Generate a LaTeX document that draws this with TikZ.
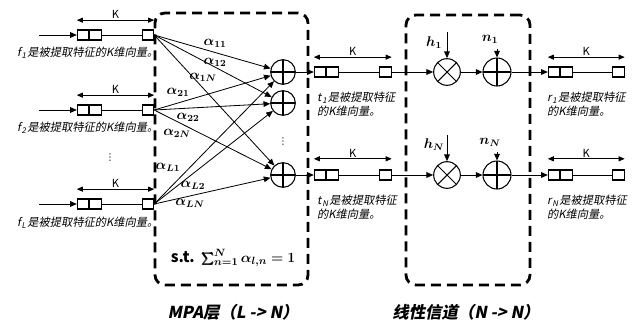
\documentclass[tikz,border=0pt]{standalone}
\usepackage{fontspec}
\usepackage{bm}
\usetikzlibrary{arrows.meta, positioning, fit, backgrounds}
\newfontfamily\cjk[FakeSlant=0.2]{Noto Sans CJK SC}
\newfontfamily\cjkup{Noto Sans CJK SC}
\newfontfamily\symfont{DejaVu Sans}

\begin{document}
\begin{tikzpicture}[
    x=0.3mm, y=-0.3mm,
    every node/.style={font=\cjk\fontsize{9.6}{12}\selectfont, align=left},
    cell/.style={rectangle, draw, line width=0.9pt, minimum width=3.4mm, minimum height=3mm, inner sep=0pt},
    sumop/.style={circle, draw, line width=0.9pt, minimum size=7.4mm, inner sep=0pt,
        path picture={\draw[line width=0.9pt] (path picture bounding box.north) -- (path picture bounding box.south)
            (path picture bounding box.west) -- (path picture bounding box.east);}},
    mulop/.style={circle, draw, line width=0.9pt, minimum size=8mm, inner sep=0pt,
        path picture={\draw[line width=0.9pt] (path picture bounding box.north west) -- (path picture bounding box.south east)
            (path picture bounding box.south west) -- (path picture bounding box.north east);}},
    layer/.style={rectangle, draw, line width=2.4pt, dash pattern=on 3mm off 1.8mm, rounded corners=3mm, inner sep=0pt},
    arrow/.style={-{Triangle[length=2mm, width=1.7mm]}, line width=0.7pt},
    wire/.style={line width=0.7pt},
    dim/.style={{Triangle[length=1.8mm, width=1.5mm]}-{Triangle[length=1.8mm, width=1.5mm]}, line width=0.7pt},
    klbl/.style={font=\cjkup\fontsize{9.5}{11}\selectfont, above, inner sep=1pt},
    coef/.style={font=\fontsize{11.5}{13}\selectfont, inner sep=0pt},
    vdot/.style={font=\symfont\fontsize{8}{8}\selectfont, inner sep=0pt},
    title/.style={font=\cjk\bfseries\fontsize{14}{16}\selectfont}
]
\useasboundingbox (0,0) rectangle (636,325);

% ================= INPUT FEATURES =================
\node[cell] (f1a) at (83,35) {};
\node[cell, right=0pt of f1a] (f1b) {};
\node[cell] (f1c) at (148,35) {};
\coordinate (f1in) at (39,35);
\draw[arrow] (f1in) -- (f1a);
\draw[wire] (f1b) -- (f1c);
\draw[dim] ([yshift=2.8mm]f1a.north west) -- node[klbl] {K} ([yshift=2.8mm]f1c.north east);
\node[anchor=west] (f1txt) at (13,53) {f\kern0.8pt\textsubscript{1}\kern0.6pt是被提取特征的K维向量。};

\node[cell] (f2a) at (83,110) {};
\node[cell, right=0pt of f2a] (f2b) {};
\node[cell] (f2c) at (148,110) {};
\coordinate (f2in) at (39,110);
\draw[arrow] (f2in) -- (f2a);
\draw[wire] (f2b) -- (f2c);
\draw[dim] ([yshift=2.8mm]f2a.north west) -- node[klbl] {K} ([yshift=2.8mm]f2c.north east);
\node[anchor=west] (f2txt) at (13,128) {f\kern0.8pt\textsubscript{2}\kern0.6pt是被提取特征的K维向量。};

\node[vdot] (fdots) at (110,158) {⋮};

\node[cell] (fLa) at (83,204) {};
\node[cell, right=0pt of fLa] (fLb) {};
\node[cell] (fLc) at (148,204) {};
\coordinate (fLin) at (39,204);
\draw[arrow] (fLin) -- (fLa);
\draw[wire] (fLb) -- (fLc);
\draw[dim] ([yshift=2.8mm]fLa.north west) -- node[klbl] {K} ([yshift=2.8mm]fLc.north east);
\node[anchor=west] (fLtxt) at (13,223) {f\kern0.8pt\textsubscript{L}\kern0.6pt是被提取特征的K维向量。};

% ================= MPA LAYER =================
\node[sumop] (sum1) at (283,72) {};
\node[sumop] (sum2) at (283,103) {};
\node[sumop] (sumN) at (283,175) {};
\node[vdot] (sumdots) at (283,142) {⋮};

\draw[arrow] (f1c.east) -- (sum1);
\draw[arrow] (f1c.east) -- (sum2);
\draw[arrow] (f1c.east) -- (sumN);
\draw[arrow] (f2c.east) -- (sum1);
\draw[arrow] (f2c.east) -- (sum2);
\draw[arrow] (f2c.east) -- (sumN);
\draw[arrow] (fLc.east) -- (sum1);
\draw[arrow] (fLc.east) -- (sum2);
\draw[arrow] (fLc.east) -- (sumN);

\node[coef] (a11) at (215,43) {$\bm{\alpha_{11}}$};
\node[coef] (a12) at (215,62) {$\bm{\alpha_{12}}$};
\node[coef] (a1N) at (203,77) {$\bm{\alpha_{1N}}$};
\node[coef] (a21) at (178,92) {$\bm{\alpha_{21}}$};
\node[coef] (a22) at (188,117) {$\bm{\alpha_{22}}$};
\node[coef] (a2N) at (177,133) {$\bm{\alpha_{2N}}$};
\node[coef] (aL1) at (168,167) {$\bm{\alpha_{L1}}$};
\node[coef] (aL2) at (193,185) {$\bm{\alpha_{L2}}$};
\node[coef] (aLN) at (190,203) {$\bm{\alpha_{LN}}$};

\node[coef, font=\fontsize{13}{15}\selectfont] (constraint) at (233,258)
    {{\cjkup\bfseries s.t.} $\bm{\sum_{n=1}^{N}\alpha_{l,n}=1}$};

% ================= TRANSMITTED FEATURES =================
\node[cell] (t1a) at (320,72) {};
\node[cell, right=0pt of t1a] (t1b) {};
\node[cell] (t1c) at (385.5,72) {};
\draw[arrow] (sum1) -- (t1a);
\draw[wire] (t1b) -- (t1c);
\draw[dim] ([yshift=2.8mm]t1a.north west) -- node[klbl] {K} ([yshift=2.8mm]t1c.north east);
\node[anchor=north west] (t1txt) at (313,88) {t\kern0.8pt\textsubscript{1}\kern0.6pt是被提取特征\\的K维向量。};

\node[cell] (tNa) at (320,175) {};
\node[cell, right=0pt of tNa] (tNb) {};
\node[cell] (tNc) at (385.5,175) {};
\draw[arrow] (sumN) -- (tNa);
\draw[wire] (tNb) -- (tNc);
\draw[dim] ([yshift=3.2mm]tNa.north west) -- node[klbl] {K} ([yshift=3.2mm]tNc.north east);
\node[anchor=north west] (tNtxt) at (313,191) {t\kern0.8pt\textsubscript{N}\kern0.6pt是被提取特征\\的K维向量。};

% ================= LINEAR CHANNEL =================
\node[mulop] (mul1) at (447,72) {};
\node[sumop, minimum size=8.4mm] (add1) at (497,72) {};
\draw[arrow] (t1c) -- (mul1);
\draw[arrow] (mul1) -- (add1);
\coordinate (h1in) at (447,32);
\draw[arrow] (h1in) -- (mul1);
\node[coef] (h1lbl) at (434,43) {$\bm{h_1}$};
\coordinate (n1in) at (497,49);
\draw[arrow] (n1in) -- (add1);
\node[coef] (n1lbl) at (490,39) {$\bm{n_1}$};

\node[mulop] (mulN) at (447,175) {};
\node[sumop, minimum size=8.4mm] (addN) at (497,175) {};
\draw[arrow] (tNc) -- (mulN);
\draw[arrow] (mulN) -- (addN);
\coordinate (hNin) at (447,135);
\draw[arrow] (hNin) -- (mulN);
\node[coef] (hNlbl) at (434,145) {$\bm{h_N}$};
\coordinate (nNin) at (497,152);
\draw[arrow] (nNin) -- (addN);
\node[coef] (nNlbl) at (490,142) {$\bm{n_N}$};

% ================= RECEIVED FEATURES =================
\node[cell] (r1a) at (554,72) {};
\node[cell, right=0pt of r1a] (r1b) {};
\node[cell] (r1c) at (618.5,72) {};
\draw[arrow] (add1) -- (r1a);
\draw[wire] (r1b) -- (r1c);
\draw[dim] ([yshift=2.8mm]r1a.north west) -- node[klbl] {K} ([yshift=2.8mm]r1c.north east);
\node[anchor=north west] (r1txt) at (543,88) {r\kern0.8pt\textsubscript{1}\kern0.6pt是被提取特征\\的K维向量。};

\node[cell] (rNa) at (554,175) {};
\node[cell, right=0pt of rNa] (rNb) {};
\node[cell] (rNc) at (618.5,175) {};
\draw[arrow] (addN) -- (rNa);
\draw[wire] (rNb) -- (rNc);
\draw[dim] ([yshift=3.2mm]rNa.north west) -- node[klbl] {K} ([yshift=3.2mm]rNc.north east);
\node[anchor=north west] (rNtxt) at (543,191) {r\kern0.8pt\textsubscript{N}\kern0.6pt是被提取特征\\的K维向量。};

% ================= LAYER FRAMES =================
\begin{scope}[on background layer]
    \coordinate (mpanw) at (155,13);
    \coordinate (mpase) at (308,285);
    \node[layer, fit=(mpanw) (mpase)] (mpa) {};
    \coordinate (channw) at (406,15);
    \coordinate (chanse) at (530,285);
    \node[layer, fit=(channw) (chanse)] (chan) {};
\end{scope}
\node[title] (mpatitle) at (233,312) {MPA层（L -> N）};
\node[title] (chantitle) at (466,312) {线性信道（N -> N）};

\end{tikzpicture}
\end{document}
